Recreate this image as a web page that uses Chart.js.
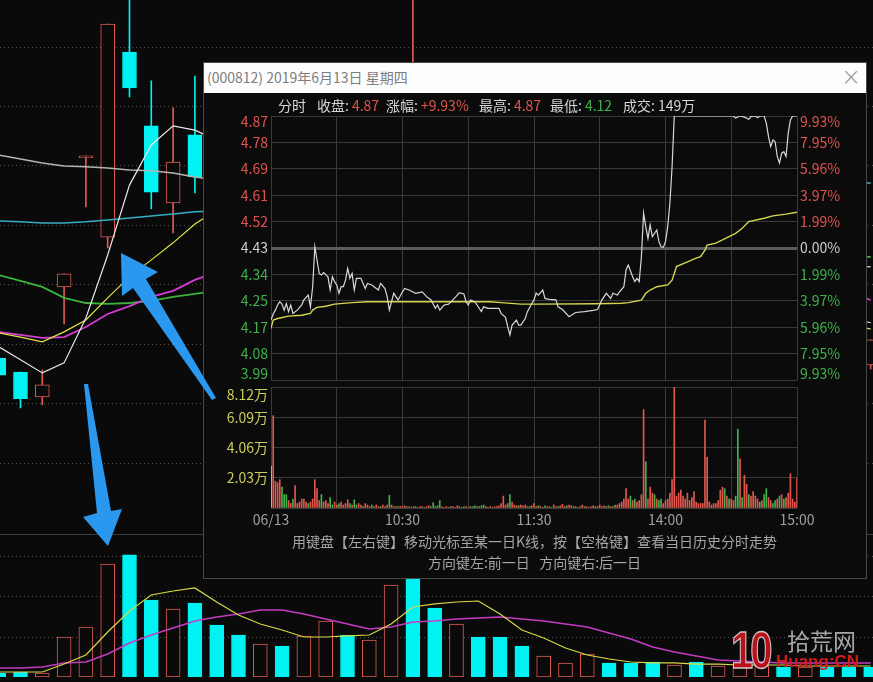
<!DOCTYPE html>
<html lang="zh-CN">
<head>
<meta charset="utf-8">
<title>000812 2019-06-13 分时</title>
<script src="https://cdn.jsdelivr.net/npm/chart.js@4.4.1/dist/chart.umd.min.js"></script>
<style>
  html, body { margin: 0; padding: 0; background: #0a0a0a; }
  #stage { position: relative; width: 873px; height: 682px; overflow: hidden; background: #0a0a0a;
           font-family: "Noto Sans CJK SC", "Noto Sans", sans-serif; }
  #stage canvas { position: absolute; }
  .abs { position: absolute; white-space: nowrap; }
  #kChart { left: 0; top: 0; z-index: 1; }
  #vChart { left: 0; top: 535px; z-index: 1; }
  #sep { left: 0; top: 534px; width: 873px; height: 1px; background: #3a3a3a; z-index: 1; }
  #dialog { left: 203px; top: 62px; width: 664px; height: 517px; box-sizing: border-box;
            border: 1px solid #4a4a4a; background: #0b0b0b; z-index: 2; }
  #titlebar { left: 204px; top: 63px; width: 662px; height: 30px; background: #fdfdfd; z-index: 3; }
  #title { left: 207px; top: 69px; font-size: 14px; line-height: 16px; color: #7e7e7e; z-index: 4; }
  #close { left: 841px; top: 62px; font-size: 24px; line-height: 30px; color: #9a9a9a; z-index: 4;
           font-family: "DejaVu Sans", sans-serif; font-weight: 200; }
  #tChart { left: 203px; top: 94px; z-index: 3; }
  #tvChart { left: 203px; top: 383px; z-index: 3; }
  .info { top: 97px; font-size: 14px; line-height: 16px; color: #d6d6d6; z-index: 4; }
  .info b { font-weight: normal; margin-left: 3px; }
  .up { color: #e0534d; }
  .dn { color: #3fb24b; }
  .hint { left: 203px; width: 663px; text-align: center; font-size: 14px; line-height: 16px; color: #a6a6a6; z-index: 4; }
  #arrows { position: absolute; left: 0; top: 0; z-index: 8; }
  #mark10 { left: 731px; top: 624px; font: 900 40px/40px "Liberation Sans", sans-serif; color: #b5121b;
            -webkit-text-stroke: 1px rgba(255,255,255,0.75); letter-spacing: -3px; z-index: 9;
            transform: scaleY(1.3); transform-origin: 0 0; }
  #markCn { left: 787px; top: 626px; font-size: 23px; line-height: 28px; color: rgba(200,200,200,0.82); z-index: 9; }
  #markEn { left: 776px; top: 652px; font: bold 17px/20px "Liberation Sans", sans-serif; color: #d11c1c; z-index: 10; }
</style>
</head>
<body>
<div id="stage">
  <canvas id="kChart" width="873" height="534"></canvas>
  <div id="sep" class="abs"></div>
  <canvas id="vChart" width="873" height="142"></canvas>

  <div id="dialog" class="abs"></div>
  <div id="titlebar" class="abs"></div>
  <div id="title" class="abs">(000812) 2019年6月13日 星期四</div>
  <div id="close" class="abs">×</div>

  <div class="abs info" style="left:278px">分时</div>
  <div class="abs info" style="left:317px">收盘:<b class="up">4.87</b></div>
  <div class="abs info" style="left:386px">涨幅:<b class="up">+9.93%</b></div>
  <div class="abs info" style="left:479px">最高:<b class="up">4.87</b></div>
  <div class="abs info" style="left:550px">最低:<b class="dn">4.12</b></div>
  <div class="abs info" style="left:623px">成交:<b>149万</b></div>

  <canvas id="tChart" width="663" height="294"></canvas>
  <canvas id="tvChart" width="663" height="151"></canvas>

  <div class="abs hint" style="top:533px">用键盘【左右键】移动光标至某一日K线，按【空格键】查看当日历史分时走势</div>
  <div class="abs hint" style="top:554px">方向键左:前一日&nbsp;&nbsp;&nbsp;方向键右:后一日</div>

  <svg id="arrows" width="873" height="682">
    <polygon points="121,253 158,272 146,279 216,398 212,400 133,288 122,296" fill="#2a98ee"/>
    <polygon points="84,384 88,384 111,511 122,509 108,546 83,517 97,513" fill="#2a98ee"/>
  </svg>

  <div id="mark10" class="abs">10</div>
  <div id="markCn" class="abs">拾荒网</div>
  <div id="markEn" class="abs">Huang:CN</div>
</div>

<script>
// ---- daily K-line (index 0 = leftmost bar). null = hidden behind the dialog ----
const gap = n => Array(n).fill(null);

const kOpen  = [3.771, 3.725, 3.643, 4.005, 4.430, 4.169, 4.778, 4.535, 4.281, 4.505, ...gap(9), 4.550, ...gap(20), 3.748];
const kClose = [3.715, 3.637, 3.683, 4.048, 4.436, 4.870, 4.660, 4.317, 4.416, 4.367, ...gap(9), 4.700, ...gap(20), 3.831];
const kHigh  = [3.780, 3.725, 3.732, 4.048, 4.436, 4.870, 5.000, 4.683, 4.594, 4.699, ...gap(9), 5.050, ...gap(20), 3.831];
const kLow   = [3.700, 3.607, 3.617, 3.883, 4.268, 4.133, 4.630, 4.262, 4.183, 4.314, ...gap(9), 4.500, ...gap(20), 3.735];

// moving averages on the price panel
const ma5   = [3.808, 3.765, 3.722, 3.755, 3.903, 4.110, 4.340, 4.472, 4.535, 4.521, 4.488, ...gap(28), 3.903, 3.887];
const ma10  = [3.854, 3.840, 3.824, 3.857, 3.896, 3.969, 4.038, 4.094, 4.150, 4.212, 4.258, ...gap(28), 3.877, 3.867];
const ma20  = [3.857, 3.847, 3.837, 3.840, 3.873, 3.916, 3.942, 3.972, 3.992, 4.028, 4.054, ...gap(28), 3.988, 3.962];
const ma30  = [4.044, 4.025, 4.005, 3.969, 3.952, 3.949, 3.952, 3.959, 3.972, 3.982, 3.992, ...gap(28), 4.104, 4.104];
const ma60  = [4.222, 4.219, 4.215, 4.215, 4.219, 4.225, 4.232, 4.238, 4.245, 4.252, 4.255, ...gap(28), 4.347, 4.347];
const ma120 = [4.439, 4.426, 4.413, 4.403, 4.400, 4.396, 4.390, 4.387, 4.380, 4.367, 4.357, ...gap(28), 4.071, 4.071];
const kGrid = [4.794, 4.597, 4.403, 4.206, 4.012, 3.814, 3.620, 3.423];

// daily volume (万), 1 = up day (hollow red), 0 = down day (cyan)
const vol = [5.3, 6.6, 5.3, 52.7, 65.9, 149, 160.9, 101.5, 89.7, 97.6,
             68.6, 55.4, 43.5, 40.9, 54.1, 73.8, 55.4, 48.8, 121.3, 160,
             91.0, 69.9, 52.7, 52.7, 40.9, 27.7, 18.5, 30.3, 18.5, 18.5,
             19.8, 15.8, 19.8, 14.5, 14.5, 14.5, 13.2, 13.2, 13.2, 13.2, 13.2];
const volUp = [0,0,1,1,1,1,0,0,1,0, 0,0,1,0,1,1,0,1,1,0, 0,1,0,0,0,1,1,1,0,0, 0,1,0,1,1,1,0,1,0,0, 0];
const volMa5  = [6.6, 6.6, 6.6, 17.1, 29.0, 59.3, 87.0, 108.1, 113.4, 117.4, 98.9, 81.8, 69.9, 62.0, 52.7, 52.7, 54.1, 55.4, 69.9, 92.3,
                 96.3, 98.9, 100.2, 83.1, 62.0, 51.4, 38.2, 29.0, 23.7, 19.8, 18.5, 18.5, 17.1, 17.1, 15.8, 15.8, 15.8, 14.5, 14.5, 14.5, 14.5];
const volMa10 = [11.9, 11.9, 13.2, 18.5, 19.8, 30.3, 44.8, 55.4, 64.6, 73.8, 79.1, 83.1, 88.3, 88.3, 83.1, 76.5, 69.9, 63.3, 65.9, 72.5,
                 73.8, 76.5, 77.8, 79.1, 76.5, 73.8, 69.9, 65.9, 58.0, 50.1, 39.6, 33.0, 27.7, 22.4, 21.1, 19.8, 18.5, 18.5, 18.5, 18.5, 18.5];
const volGrid = [52.7, 105.5, 158.2];

// ---- intraday 2019-06-13, minute index 0 = 09:30, 240 = 15:00 ----
const prevClose = 4.43;
const pctTicks   = [9.93, 7.95, 5.96, 3.97, 1.99, 0, -1.99, -3.97, -5.96, -7.95, -9.93];
const priceLabels = ['4.87', '4.78', '4.69', '4.61', '4.52', '4.43', '4.34', '4.25', '4.17', '4.08', '3.99'];
const pctLabels   = ['9.93%', '7.95%', '5.96%', '3.97%', '1.99%', '0.00%', '1.99%', '3.97%', '5.96%', '7.95%', '9.93%'];
const timeMarks  = [0, 60, 120, 180, 240];
const timeLabels = ['06/13', '10:30', '11:30', '14:00', '15:00'];
const volTicks  = [2.03, 4.06, 6.09, 8.12];
const volLabels = ['2.03万', '4.06万', '6.09万', '8.12万'];

// [minute, price]
const tickPrice = [
  [0,4.190],[1,4.210],[2,4.223],[3,4.240],[4,4.251],[5,4.243],[6,4.223],[7,4.245],[8,4.218],[9,4.240],
  [10,4.212],[12,4.223],[14,4.240],[15,4.257],[17,4.273],[18,4.234],[19,4.300],[20,4.434],[21,4.390],[22,4.345],
  [23,4.340],[24,4.348],[26,4.334],[27,4.290],[28,4.334],[29,4.318],[30,4.307],[31,4.279],[32,4.301],[33,4.301],
  [34,4.323],[35,4.362],[36,4.329],[37,4.345],[38,4.290],[39,4.329],[41,4.329],[43,4.295],[44,4.312],[46,4.307],
  [47,4.301],[49,4.290],[50,4.312],[52,4.295],[53,4.268],[54,4.223],[55,4.251],[56,4.279],[57,4.268],[58,4.257],
  [60,4.284],[61,4.295],[63,4.290],[66,4.279],[69,4.284],[71,4.268],[73,4.257],[75,4.229],[76,4.240],[77,4.223],
  [79,4.240],[81,4.243],[83,4.257],[85,4.273],[86,4.281],[88,4.277],[89,4.251],[90,4.240],[91,4.257],[93,4.251],
  [94,4.240],[96,4.218],[97,4.234],[99,4.229],[104,4.229],[105,4.212],[107,4.199],[108,4.168],[109,4.140],[110,4.173],
  [112,4.190],[113,4.173],[114,4.173],[116,4.195],[117,4.218],[119,4.245],[120,4.257],[121,4.280],[122,4.273],[124,4.290],
  [125,4.262],[127,4.259],[130,4.257],[131,4.234],[133,4.225],[136,4.201],[139,4.215],[143,4.218],[147,4.222],[149,4.225],
  [151,4.257],[153,4.279],[155,4.262],[156,4.279],[158,4.273],[159,4.284],[161,4.301],[162,4.357],[163,4.373],[165,4.334],
  [166,4.318],[167,4.329],[168,4.318],[169,4.400],[170,4.546],[171,4.501],[172,4.462],[173,4.507],[174,4.468],[176,4.490],
  [177,4.451],[178,4.434],[179,4.432],[180,4.451],[181,4.501],[182,4.579],[183,4.700],[184,4.870],[211,4.870],[212,4.863],
  [214,4.870],[216,4.866],[218,4.859],[219,4.868],[221,4.870],[222,4.864],[223,4.870],[225,4.870],[226,4.846],[227,4.801],
  [228,4.768],[229,4.790],[230,4.785],[231,4.735],[232,4.713],[233,4.746],[234,4.751],[235,4.735],[236,4.813],[237,4.857],
  [238,4.870],[240,4.870]
];
// [minute, average price]
const avgPrice = [
  [0,4.162],[1,4.190],[3,4.195],[8,4.203],[14,4.206],[18,4.212],[19,4.223],[21,4.232],[25,4.236],[29,4.243],
  [37,4.248],[44,4.251],[100,4.251],[105,4.248],[114,4.243],[122,4.243],[148,4.244],[160,4.246],[163,4.248],[169,4.256],
  [171,4.279],[173,4.290],[176,4.301],[181,4.307],[183,4.323],[184,4.345],[185,4.368],[190,4.384],[194,4.396],[196,4.401],
  [198,4.423],[199,4.440],[203,4.446],[206,4.457],[209,4.468],[212,4.479],[215,4.496],[218,4.518],[225,4.529],[229,4.537],
  [235,4.543],[240,4.549]
];
// [minute, volume 万, 1 up / -1 down / 0 neutral]
const tickVol = [
  [0,2.8,0],[1,6.2,1],[2,1.8,1],[3,1.7,1],[4,1.9,1],[5,1.4,-1],[6,0.9,-1],[7,0.9,-1],[8,0.5,1],[9,0.3,1],
  [10,0.6,-1],[11,1.5,1],[12,0.3,1],[13,0.4,1],[14,0.6,1],[15,0.6,1],[16,0.4,1],[17,0.3,-1],[18,0.4,1],[19,0.6,1],
  [20,1.9,1],[21,1.3,1],[22,0.5,1],[23,0.9,-1],[24,0.4,1],[25,0.5,1],[26,0.3,1],[27,0.7,-1],[28,0.2,-1],[29,0.4,1],
  [30,0.2,1],[31,0.3,-1],[32,0.4,1],[33,0.2,1],[34,0.3,1],[35,0.55,1],[36,0.3,-1],[37,0.2,1],[38,0.55,-1],[39,0.2,-1],
  [40,0.3,1],[41,0.2,1],[42,0.1,-1],[43,0.3,1],[44,0.2,1],[45,0.1,1],[46,0.2,-1],[47,0.1,1],[48,0.2,1],[49,0.1,1],
  [50,0.1,-1],[51,0.2,1],[52,0.1,1],[53,0.2,1],[54,0.85,-1],[55,0.2,1],[56,0.1,1],[57,0.1,1],[58,0.1,-1],[59,0.1,1],
  [60,0.1,1],[61,0.15,1],[62,0.1,-1],[63,0.1,1],[64,0.05,1],[65,0.1,1],[66,0.1,-1],[67,0.05,1],[68,0.1,1],[69,0.1,1],
  [70,0.05,-1],[71,0.1,1],[72,0.15,1],[73,0.1,-1],[74,0.35,-1],[75,0.1,1],[76,0.15,-1],[77,0.5,-1],[78,0.1,1],[79,0.05,1],
  [80,0.1,1],[81,0.05,-1],[82,0.1,1],[83,0.1,1],[84,0.05,1],[85,0.15,1],[86,0.1,1],[87,0.05,-1],[88,0.1,1],[89,0.1,-1],
  [90,0.05,1],[91,0.1,1],[92,0.1,-1],[93,0.15,-1],[94,0.1,-1],[95,0.1,1],[96,0.15,-1],[97,0.2,-1],[98,0.1,1],[99,0.05,1],
  [100,0.1,1],[101,0.05,-1],[102,0.1,1],[103,0.1,1],[104,0.15,1],[105,0.3,1],[106,0.8,1],[107,0.2,1],[108,0.3,1],[109,0.9,-1],
  [110,0.4,1],[111,0.2,1],[112,0.15,1],[113,0.15,-1],[114,0.2,1],[115,0.15,1],[116,0.2,1],[117,0.1,1],[118,0.1,-1],[119,0.15,1],
  [120,0.3,1],[121,0.1,1],[122,0.15,-1],[123,0.1,1],[124,0.05,1],[125,0.15,-1],[126,0.1,1],[127,0.1,1],[128,0.05,-1],[129,0.2,1],
  [130,0.1,1],[131,0.1,-1],[132,0.15,1],[133,0.25,1],[134,0.1,1],[135,0.15,-1],[136,0.2,1],[137,0.15,1],[138,0.1,1],[139,0.1,-1],
  [140,0.05,1],[141,0.1,1],[142,0.2,1],[143,0.1,-1],[144,0.1,1],[145,0.05,1],[146,0.1,1],[147,0.15,1],[148,0.1,-1],[149,0.1,1],
  [150,0.2,1],[151,0.1,1],[152,0.15,1],[153,0.1,-1],[154,0.15,-1],[155,0.1,1],[156,0.1,1],[157,0.2,-1],[158,0.2,1],[159,0.3,1],
  [160,0.4,1],[161,0.6,1],[162,1.3,1],[163,0.6,1],[164,0.8,-1],[165,0.5,1],[166,0.6,-1],[167,0.4,1],[168,0.5,1],[169,0.9,1],
  [170,6.6,1],[171,3.1,-1],[172,0.6,1],[173,1.4,1],[174,1.0,1],[175,0.9,-1],[176,0.6,1],[177,0.5,-1],[178,0.6,-1],[179,0.3,1],
  [180,0.5,1],[181,0.6,1],[182,1.0,1],[183,1.9,1],[184,8.12,1],[185,0.8,1],[186,1.0,1],[187,1.2,1],[188,0.8,1],[189,0.6,1],
  [190,1.0,1],[191,0.5,1],[192,0.7,1],[193,1.1,1],[194,0.4,1],[195,0.3,1],[196,0.3,1],[197,0.3,1],[198,5.9,1],[199,3.4,1],
  [200,0.4,1],[201,0.2,1],[202,0.3,1],[203,0.3,1],[204,0.5,1],[205,1.2,1],[206,1.4,1],[207,1.3,-1],[208,0.8,1],[209,0.6,-1],
  [210,0.6,1],[211,0.5,1],[212,0.8,-1],[213,5.3,-1],[214,3.3,1],[215,0.7,-1],[216,2.2,1],[217,1.6,1],[218,0.9,-1],[219,0.8,1],
  [220,1.1,1],[221,0.8,1],[222,0.6,1],[223,0.4,-1],[224,0.5,1],[225,0.9,-1],[226,1.3,-1],[227,0.7,1],[228,0.5,1],[229,0.3,-1],
  [230,0.5,-1],[231,0.6,1],[232,0.8,-1],[233,0.9,1],[234,0.6,-1],[235,0.7,1],[236,1.0,1],[237,2.3,1],[238,0.6,1],[239,0.4,1],
  [240,2.0,1]
];

// ---- colours ----
const BG = '#0a0a0a', RED = '#e05a52', CYAN = '#00f2f2';
const T_RED = '#e0534d', T_GREEN = '#3fb24b', T_WHITE = '#cfcfcf', T_YELLOW = '#cdcd5c';
const GRID = '#3a3a3a';
const FONT = '"Noto Sans CJK SC", "Noto Sans", sans-serif';

Chart.defaults.font.family = FONT;
Chart.defaults.animation = false;
Chart.defaults.events = [];
Chart.defaults.plugins.legend.display = false;
Chart.defaults.plugins.tooltip.enabled = false;

const days = kOpen.map((_, i) => i);
const shown = days.filter(i => kOpen[i] !== null);
const isUp = i => kClose[i] >= kOpen[i];
const series = vals => vals.map((v, i) => ({x: i, y: v}));
const maLine = (vals, color, width) => ({
  type: 'line', data: series(vals), borderColor: color, borderWidth: width,
  pointRadius: 0, tension: 0, spanGaps: true, order: 0
});
const dotted = {display: false, dash: [1, 3]};
const dayX = {type: 'linear', min: 0.06, max: 40.106, offset: false, display: false};

// daily candles
new Chart(document.getElementById('kChart'), {
  type: 'bar',
  data: {
    datasets: [
      maLine(ma5, '#e8e8e8', 1.2),
      maLine(ma10, '#e2e24a', 1.2),
      maLine(ma20, '#d43cd4', 1.8),
      maLine(ma30, '#3cb43c', 1.8),
      maLine(ma60, '#35aec4', 1.5),
      maLine(ma120, '#b4b4b4', 1.5),
      {
        label: 'body', order: 1, grouped: false, barThickness: 14,
        data: shown.map(i => ({x: i, y: [kOpen[i], kClose[i]]})),
        backgroundColor: shown.map(i => isUp(i) ? BG : CYAN),
        borderColor: shown.map(i => isUp(i) ? RED : CYAN),
        borderWidth: 1, borderSkipped: false
      },
      {
        label: 'shadow', order: 2, grouped: false, barThickness: 1,
        data: shown.map(i => ({x: i, y: [kLow[i], kHigh[i]]})),
        backgroundColor: shown.map(i => isUp(i) ? RED : CYAN)
      }
    ]
  },
  options: {
    responsive: false,
    layout: {padding: 0},
    scales: {
      x: dayX,
      y: {
        min: 3.192, max: 4.949,
        grid: {color: '#505050', drawTicks: false},
        border: dotted,
        ticks: {display: false},
        afterBuildTicks: s => { s.ticks = kGrid.map(v => ({value: v})); }
      }
    }
  }
});

// daily volume
new Chart(document.getElementById('vChart'), {
  type: 'bar',
  data: {
    datasets: [
      maLine(volMa5, '#d8d848', 1.2),
      maLine(volMa10, '#c23cc2', 1.6),
      {
        label: 'vol', order: 1, grouped: false, barThickness: 14,
        data: series(vol),
        backgroundColor: volUp.map(u => u ? BG : CYAN),
        borderColor: volUp.map(u => u ? RED : CYAN),
        borderWidth: 1, borderSkipped: false
      }
    ]
  },
  options: {
    responsive: false,
    layout: {padding: 0},
    scales: {
      x: dayX,
      y: {
        min: 0, max: 187.2,
        grid: {color: '#505050', drawTicks: false},
        border: dotted,
        ticks: {display: false},
        afterBuildTicks: s => { s.ticks = volGrid.map(v => ({value: v})); }
      }
    }
  }
});

// y labels for the dialog panels, kept inside the plot frame at the ends
function sideLabels(rows, margin) {
  return {
    id: 'sideLabels',
    afterDraw(chart) {
      const {ctx, chartArea: a, scales: {y}} = chart;
      ctx.save();
      ctx.font = '14px ' + FONT;
      ctx.textBaseline = 'middle';
      rows.forEach(r => {
        const py = Math.min(Math.max(y.getPixelForValue(r.value), a.top + margin), a.bottom - margin);
        ctx.fillStyle = r.color;
        if (r.left) { ctx.textAlign = 'right'; ctx.fillText(r.left, a.left - 3, py); }
        if (r.right) { ctx.textAlign = 'left'; ctx.fillText(r.right, a.right + 3, py); }
      });
      ctx.restore();
    }
  };
}

const halfHours = [0, 30, 60, 90, 120, 150, 180, 210, 240];
const priceLevels = pctTicks.map(p => prevClose * (1 + p / 100));
const levelColor = p => p > 0 ? T_RED : (p < 0 ? T_GREEN : T_WHITE);
const isBase = c => c.tick && Math.abs(c.tick.value - prevClose) < 1e-6;

// intraday price
new Chart(document.getElementById('tChart'), {
  type: 'line',
  data: {
    datasets: [
      {data: tickPrice.map(([m, p]) => ({x: m, y: p})), borderColor: '#d8d8d8', borderWidth: 1.2, pointRadius: 0, tension: 0},
      {data: avgPrice.map(([m, p]) => ({x: m, y: p})), borderColor: '#d6d64e', borderWidth: 1.4, pointRadius: 0, tension: 0}
    ]
  },
  options: {
    responsive: false,
    layout: {padding: {left: 68, right: 69, top: 22, bottom: 8}},
    scales: {
      x: {
        type: 'linear', min: 0, max: 240,
        grid: {color: GRID, drawTicks: false}, border: {display: false}, ticks: {display: false},
        afterBuildTicks: s => { s.ticks = halfHours.map(v => ({value: v})); }
      },
      y: {
        min: priceLevels[10], max: priceLevels[0],
        grid: {color: c => isBase(c) ? '#5c5c5c' : GRID, lineWidth: c => isBase(c) ? 3 : 1, drawTicks: false},
        border: {display: false}, ticks: {display: false},
        afterBuildTicks: s => { s.ticks = priceLevels.map(v => ({value: v})); }
      }
    }
  },
  plugins: [sideLabels(pctTicks.map((p, i) => ({
    value: priceLevels[i], left: priceLabels[i], right: pctLabels[i], color: levelColor(p)
  })), 6)]
});

// intraday volume
const tvColor = d => d > 0 ? '#e0574f' : (d < 0 ? '#42b24d' : '#d6d65a');
new Chart(document.getElementById('tvChart'), {
  type: 'bar',
  data: {
    datasets: [{
      grouped: false, barThickness: 1,
      data: tickVol.map(([m, v]) => ({x: m, y: v})),
      backgroundColor: tickVol.map(r => tvColor(r[2]))
    }]
  },
  options: {
    responsive: false,
    layout: {padding: {left: 68, right: 69, top: 4, bottom: 4}},
    scales: {
      x: {
        type: 'linear', min: 0, max: 240, offset: false,
        grid: {color: GRID, drawTicks: false, offset: false}, border: {display: false},
        afterBuildTicks: s => { s.ticks = halfHours.map(v => ({value: v})); },
        afterFit: s => { s.height = 22; },
        ticks: {
          autoSkip: false, maxRotation: 0, padding: 3, color: '#a0a0a0', font: {size: 14},
          callback: v => { const k = timeMarks.indexOf(v); return k < 0 ? '' : timeLabels[k]; }
        }
      },
      y: {
        min: 0, max: 8.12,
        grid: {color: GRID, drawTicks: false}, border: {display: false}, ticks: {display: false},
        afterBuildTicks: s => { s.ticks = [0, ...volTicks].map(v => ({value: v})); }
      }
    }
  },
  plugins: [sideLabels(volTicks.map((v, i) => ({value: v, left: volLabels[i], color: T_YELLOW})), 8)]
});
</script>
</body>
</html>
